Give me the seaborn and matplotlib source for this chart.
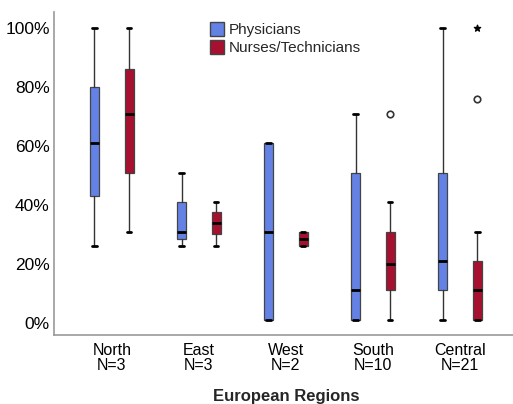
import matplotlib
matplotlib.use("Agg")
import matplotlib.pyplot as plt
from matplotlib.patches import Patch
from matplotlib.ticker import FuncFormatter
import seaborn as sns

# regions and group sizes
regions = ['North', 'East', 'West', 'South', 'Central']
n_sizes = [3, 3, 2, 10, 21]

# five-number summaries (percent)
phys_low = [26, 26, 1, 1, 1]
phys_q1 = [43, 28.5, 1, 1, 11]
phys_med = [61, 31, 31, 11, 21]
phys_q3 = [80, 41, 61, 51, 51]
phys_high = [100, 51, 61, 71, 100]

nurse_low = [31, 26, 26, 1, 1]
nurse_q1 = [51, 30, 26, 11, 1]
nurse_med = [71, 34, 28.5, 20, 11]
nurse_q3 = [86, 37.5, 31, 31, 21]
nurse_high = [100, 41, 31, 41, 31]

# outliers (circles) and extremes (stars), by region index
nurse_outlier_idx = [3, 4]
nurse_outlier_val = [71, 76]
nurse_extreme_idx = [4]
nurse_extreme_val = [100]

blue = '#6482e6'
red = '#a8102f'

sns.set_theme(style='white')
plt.rcParams['font.family'] = ['Liberation Sans', 'DejaVu Sans']

fig = plt.figure(figsize=(5.13, 4.04), dpi=100)
ax = fig.add_axes([0.105, 0.171, 0.895, 0.799])


def stats_for(low, q1, med, q3, high):
    out = []
    for a, b, c, d, e in zip(low, q1, med, q3, high):
        out.append({'whislo': a, 'q1': b, 'med': c, 'q3': d, 'whishi': e, 'fliers': []})
    return out


off = 0.2
for stats, color, sign in [(stats_for(phys_low, phys_q1, phys_med, phys_q3, phys_high), blue, -1),
                           (stats_for(nurse_low, nurse_q1, nurse_med, nurse_q3, nurse_high), red, 1)]:
    pos = [i + sign * off for i in range(len(regions))]
    ax.bxp(stats, positions=pos, widths=0.11, capwidths=0.05, patch_artist=True, showfliers=False,
           boxprops=dict(facecolor=color, edgecolor='#444444', linewidth=0.9),
           medianprops=dict(color='black', linewidth=2),
           whiskerprops=dict(color='#333333', linewidth=1),
           capprops=dict(color='black', linewidth=2))

ax.scatter([i + off for i in nurse_outlier_idx], nurse_outlier_val, marker='o', s=22,
           facecolor='white', edgecolor='#333333', linewidth=1.2, zorder=5)
ax.scatter([i + off for i in nurse_extreme_idx], nurse_extreme_val, marker='*', s=22,
           color='black', zorder=5)

ax.set_xlim(-0.667, 4.61)
ax.set_ylim(-4.07, 105.4)
ax.set_yticks([0, 20, 40, 60, 80, 100])
ax.yaxis.set_major_formatter(FuncFormatter(lambda v, p: f'{v:.0f}%'))
ax.set_xticks(range(len(regions)))
ax.set_xticklabels([f'{r}\nN={n}' for r, n in zip(regions, n_sizes)], linespacing=0.95)
ax.tick_params(axis='x', length=0, labelsize=11.5, colors='black', pad=6)
ax.tick_params(axis='y', length=0, labelsize=12.5, colors='black', pad=3)
fig.text(0.105 + 0.895 * (2 + 0.667) / (4.61 + 0.667), 8 / 404, 'European Regions',
         ha='center', va='center', fontsize=12, fontweight='bold')

sns.despine(ax=ax)
for s in ['left', 'bottom']:
    ax.spines[s].set_color('#999999')
    ax.spines[s].set_linewidth(1.2)

handles = [Patch(facecolor=blue, edgecolor='#444444', label='Physicians'),
           Patch(facecolor=red, edgecolor='#444444', label='Nurses/Technicians')]
fig.legend(handles=handles, loc='upper left', bbox_to_anchor=(0.395, 0.965), frameon=False,
           fontsize=11, handlelength=0.9, handleheight=1.1, handletextpad=0.3,
           labelspacing=0.15, borderpad=0)

fig.savefig('out.png', dpi=100)
